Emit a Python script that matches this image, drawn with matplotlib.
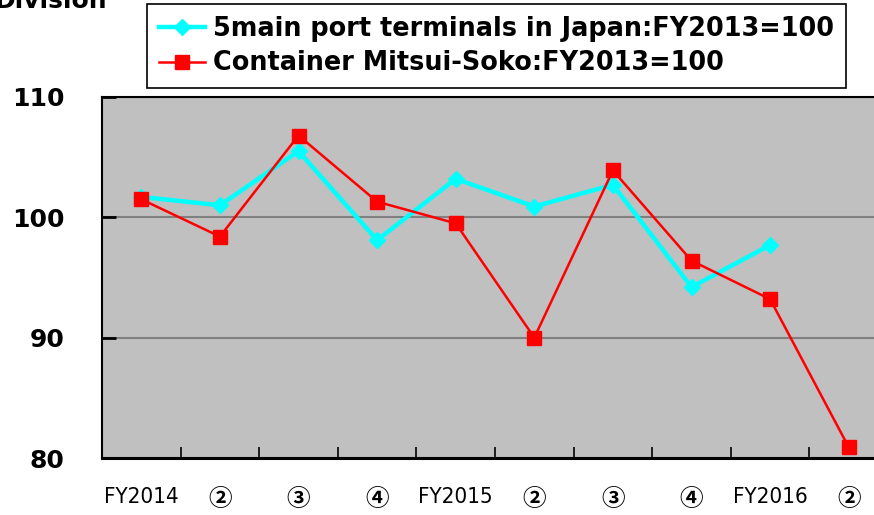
import numpy as np
import matplotlib.pyplot as plt

labels = ['FY2014', '②', '③', '④', 'FY2015', '②', '③', '④', 'FY2016', '②']
ports = [101.7, 101.0, 105.5, 98.1, 103.2, 100.9, 102.7, 94.2, 97.7]
mitsui = [101.5, 98.4, 106.8, 101.3, 99.5, 90.0, 103.9, 96.4, 93.2, 80.9]

fig = plt.figure(figsize=(8.74, 5.15), dpi=100)
ax = fig.add_axes([102 / 874, 1 - 458 / 515, 786 / 874, 361 / 515])
ax.set_facecolor('#c0c0c0')

x = np.arange(len(labels))
ax.plot(x[:len(ports)], ports, color='#00ffff', lw=3.2, marker='D', ms=8,
        label='5main port terminals in Japan:FY2013=100')
ax.plot(x, mitsui, color='#ff0000', lw=1.8, marker='s', ms=10,
        label='Container Mitsui-Soko:FY2013=100')

ax.set_xlim(-0.5, len(labels) - 0.5)
ax.set_ylim(80, 110)
ax.set_yticks([80, 90, 100, 110])
ax.set_yticklabels(['80', '90', '100', '110'], fontsize=18, fontweight='bold')
ax.grid(axis='y', color='#808080', lw=1.5)
ax.set_axisbelow(True)

# tick marks between categories, labels centred on categories
ax.set_xticks(x - 0.5)
ax.set_xticklabels([])
ax.set_xticks(x, minor=True)
ax.set_xticklabels(labels, minor=True, fontsize=16, stretch='condensed')
for t in ax.get_xticklabels(minor=True):
    if not t.get_text().startswith('FY'):
        t.set_family(['Noto Sans CJK JP', 'DejaVu Sans'])
        t.set_fontweight('bold')
        t.set_fontsize(17)
ax.tick_params(axis='x', which='major', direction='in', length=8, width=1.2)
ax.tick_params(axis='x', which='minor', length=0, pad=21)
ax.tick_params(axis='y', direction='in', length=10, width=2, pad=27)

for s in ax.spines.values():
    s.set_color('black')
    s.set_linewidth(1.5)
ax.spines['bottom'].set_linewidth(2.2)

fig.text(-5 / 874, 1 - 8 / 515, 'Division', fontsize=18, fontweight='bold',
         va='baseline')

leg = fig.legend(loc='upper left', bbox_to_anchor=(147 / 874, 1 - 4 / 515),
                 prop={'size': 18.4, 'weight': 'bold'}, fancybox=False,
                 edgecolor='black', framealpha=1, handlelength=1.8,
                 borderpad=0.45, labelspacing=0.35, handletextpad=0.35,
                 borderaxespad=0)
leg.get_frame().set_linewidth(1.2)

fig.savefig('out.png', dpi=100)
